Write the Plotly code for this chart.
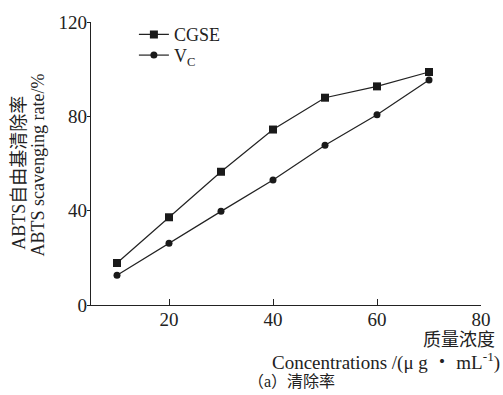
import plotly.graph_objects as go

conc = [10, 20, 30, 40, 50, 60, 70]
cgse = [17.8, 37.2, 56.5, 74.4, 87.9, 92.7, 98.8]
vc = [12.6, 26.2, 39.7, 53.0, 67.7, 80.7, 95.4]
x_ticks = [20, 40, 60, 80]
y_ticks = [0, 40, 80, 120]

FONT = "Liberation Serif, Noto Sans CJK SC, serif"

fig = go.Figure()
fig.add_trace(go.Scatter(x=conc, y=cgse, mode="lines+markers", name="CGSE",
                         line=dict(color="#222222", width=1.2),
                         marker=dict(symbol="square", size=8, color="#1a1a1a"),
                         legend="legend"))
fig.add_trace(go.Scatter(x=conc, y=vc, mode="lines+markers", name="V<sub>C</sub>",
                         line=dict(color="#222222", width=1.2),
                         marker=dict(symbol="circle", size=7, color="#1a1a1a"),
                         legend="legend2"))

leg_common = dict(xanchor="left", yanchor="middle", font=dict(size=18, family=FONT),
                  bgcolor="rgba(0,0,0,0)", itemwidth=30)

fig.update_layout(
    width=503, height=395,
    margin=dict(l=91, r=18, t=16, b=90),
    paper_bgcolor="white", plot_bgcolor="white",
    font=dict(family=FONT, color="#222222", size=19),
    showlegend=True,
    legend=dict(x=0.11, y=0.955, **leg_common),
    legend2=dict(x=0.11, y=0.882, **leg_common),
    xaxis=dict(range=[5, 80], tickvals=x_ticks, ticks="inside", ticklen=6,
               showline=True, linecolor="#222222", linewidth=1.2, tickcolor="#222222",
               showgrid=False, zeroline=False, tickfont=dict(size=19, family=FONT),
               ticklabelstandoff=-3),
    yaxis=dict(range=[0, 120], tickvals=y_ticks, ticks="outside", ticklen=3,
               showline=True, linecolor="#222222", linewidth=1.2, tickcolor="#222222",
               showgrid=False, zeroline=False, tickfont=dict(size=19, family=FONT),
               ticklabelstandoff=-4),
)

fig.add_annotation(text="ABTS自由基清除率", textangle=-90,
                   xref="paper", yref="paper", x=-0.185, y=0.467, xanchor="center", yanchor="middle",
                   showarrow=False, font=dict(size=18, family=FONT))
fig.add_annotation(text="ABTS scavenging rate/%", textangle=-90,
                   xref="paper", yref="paper", x=-0.137, y=0.495, xanchor="center", yanchor="middle",
                   showarrow=False, font=dict(size=18, family=FONT))
fig.add_annotation(text="质量浓度", xref="paper", yref="paper", x=1.04, y=-0.125,
                   xanchor="right", yanchor="middle", showarrow=False, font=dict(size=18, family=FONT))
fig.add_annotation(text="Concentrations /(μ g ・ mL<sup>-1</sup>)", xref="paper", yref="paper",
                   x=1.055, y=-0.2, xanchor="right", yanchor="middle", showarrow=False,
                   font=dict(size=19, family=FONT))
fig.add_annotation(text="（a）清除率", xref="paper", yref="paper", x=0.515, y=-0.27,
                   xanchor="center", yanchor="middle", showarrow=False, font=dict(size=16, family=FONT))

fig.write_html("out.html")
